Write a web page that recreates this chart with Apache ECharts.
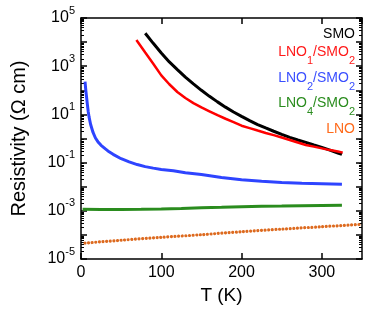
<!DOCTYPE html>
<html><head><meta charset="utf-8">
<script src="https://cdn.jsdelivr.net/npm/echarts@6/dist/echarts.min.js"></script>
<style>html,body{margin:0;padding:0;background:#fff}#c{width:374px;height:310px}</style>
</head><body><div id="c"></div>
<script>
// ---- data ----
const smoT = [80,90,100,110,120,130,140,150,160,170,180,190,200,210,220,230,240,250,260,270,280,290,300,310,320,325];
const smoR = [2.34e4,8.9e3,3.55e3,1.51e3,724,355,186,100,56.2,33.1,20.0,12.6,8.3,5.5,3.8,2.75,2.0,1.48,1.12,0.87,0.69,0.54,0.43,0.33,0.25,0.22];
const lno1T = [69,80,90,100,110,120,130,140,150,160,170,180,190,200,210,220,230,240,250,260,270,280,290,300,310,320,326];
const lno1R = [1.23e4,3.7e3,1.26e3,417,178,85,47.9,29.5,19.5,13.5,9.3,6.6,4.8,3.4,2.7,2.14,1.70,1.38,1.10,0.87,0.68,0.54,0.46,0.39,0.33,0.29,0.26];
const lno2T = [5,6,7,8,9,10,12,15,18,21,25,30,35,40,50,60,70,80,90,100,115,130,150,175,200,225,250,275,300,325];
const lno2R = [229,100,50,25,13.2,7.9,3.8,1.78,1.05,0.74,0.52,0.38,0.28,0.22,0.145,0.107,0.083,0.068,0.059,0.052,0.046,0.038,0.032,0.024,0.0195,0.017,0.0151,0.0138,0.0132,0.0126];
const lno4T = [2,25,50,75,100,125,150,175,200,225,250,275,300,325];
const lno4R = [1.17e-3,1.12e-3,1.12e-3,1.15e-3,1.2e-3,1.26e-3,1.35e-3,1.41e-3,1.48e-3,1.55e-3,1.58e-3,1.62e-3,1.66e-3,1.7e-3];
const lnoT = [5,50,100,150,200,250,300,350];
const lnoR = [4.57e-5,6.0e-5,7.9e-5,1.02e-4,1.35e-4,1.74e-4,2.19e-4,2.75e-4];
const legendNames = ['SMO','LNO1/SMO2','LNO2/SMO2','LNO4/SMO2','LNO'];
const legendColors = ['#000000','#ff1a1a','#3a4fff','#2a8c1e','#ff6a1a'];
const xTicks = [0,100,200,300];
const yExps = [-5,-3,-1,1,3,5];

const pairs = (t, r) => t.map((v, i) => [v, r[i]]);
const FONT = 'Liberation Sans, Arial, sans-serif';

// minor tick positions in log10 space (styling helper)
const minorLog = [];
for (let e = -5; e < 5; e++) for (let k = 2; k <= 9; k++) minorLog.push(e + Math.log10(k));

const chart = echarts.init(document.getElementById('c'));
const legendY = [34.5, 52, 78, 103, 129];
const graphics = legendNames.map((n, i) => ({
  type: 'text', x: 355, y: legendY[i], z: 100,
  style: {
    text: '{n|' + n.replace(/(\d)/g, '}{s|$1}{n|') + '}',
    align: 'right', verticalAlign: 'middle',
    rich: {
      n: {fontSize: 14, lineHeight: 28, fill: legendColors[i], fontFamily: FONT},
      s: {fontSize: 11, lineHeight: 11, verticalAlign: 'bottom', fill: legendColors[i], fontFamily: FONT}
    }
  }
}));

const axisLine = {show: true, onZero: false, lineStyle: {color: '#000', width: 1.5}};
const majorTick = {inside: true, length: 6, lineStyle: {color: '#000', width: 1.5}};
const minorTickAxis = pos => ({type: 'value', min: -5, max: 5, interval: 1, position: pos,
  axisLine: {show: false, onZero: false}, splitLine: {show: false},
  axisLabel: {show: false},
  axisTick: {show: true, inside: true, length: 3, customValues: minorLog, lineStyle: {color: '#000', width: 1}}});
chart.setOption({
  animation: false,
  backgroundColor: '#fff',
  grid: {left: 81, right: 12, top: 18, bottom: 51, containLabel: false},
  xAxis: [
    {type: 'value', min: 0, max: 350, interval: 100, position: 'bottom',
     axisLine, splitLine: {show: false}, axisTick: majorTick,
     axisLabel: {fontSize: 16, color: '#000', fontFamily: FONT, margin: 6,
       showMaxLabel: false, formatter: v => xTicks.includes(v) ? String(v) : ''},
     name: 'T (K)', nameLocation: 'middle', nameGap: 25,
     nameTextStyle: {fontSize: 19, color: '#000', fontFamily: FONT}},
    {type: 'value', min: 0, max: 350, interval: 100, position: 'top',
     axisLine, splitLine: {show: false}, axisTick: majorTick,
     axisLabel: {show: false}}
  ],
  yAxis: [
    {type: 'log', logBase: 10, min: 1e-5, max: 1e5, interval: 1, position: 'left',
     axisLine, splitLine: {show: false}, axisTick: majorTick,
     axisLabel: {color: '#000', margin: 6, interval: 1,
       formatter: v => { const e = Math.round(Math.log10(v)); return yExps.includes(e) ? '{b|10}{e|' + e + '}' : ''; },
       rich: {b: {fontSize: 16, lineHeight: 26, fontFamily: FONT, color: '#000'},
              e: {fontSize: 11, lineHeight: 11, verticalAlign: 'top', fontFamily: FONT, color: '#000'}}},
     name: 'Resistivity (Ω cm)', nameLocation: 'middle', nameGap: 52,
     nameTextStyle: {fontSize: 20, color: '#000', fontFamily: FONT}},
    {type: 'log', logBase: 10, min: 1e-5, max: 1e5, interval: 1, position: 'right',
     axisLine, splitLine: {show: false}, axisTick: majorTick,
     axisLabel: {show: false}},
    minorTickAxis('left'),
    minorTickAxis('right')
  ],
  series: [
    {name: 'LNO', type: 'line', data: pairs(lnoT, lnoR), showSymbol: false, smooth: 0.3,
     lineStyle: {color: '#dd6a1f', width: 3.2, type: [0.01, 3.6], cap: 'round'}},
    {name: 'LNO4/SMO2', type: 'line', data: pairs(lno4T, lno4R), showSymbol: false,
     lineStyle: {color: '#2a8c1e', width: 3}},
    {name: 'LNO2/SMO2', type: 'line', data: pairs(lno2T, lno2R), showSymbol: false,
     lineStyle: {color: '#2e44ff', width: 3}},
    {name: 'SMO', type: 'line', data: pairs(smoT, smoR), showSymbol: false,
     lineStyle: {color: '#000', width: 3}},
    {name: 'LNO1/SMO2', type: 'line', data: pairs(lno1T, lno1R), showSymbol: false,
     lineStyle: {color: '#ff0000', width: 2.5}}
  ],
  graphic: graphics
});
</script></body></html>
